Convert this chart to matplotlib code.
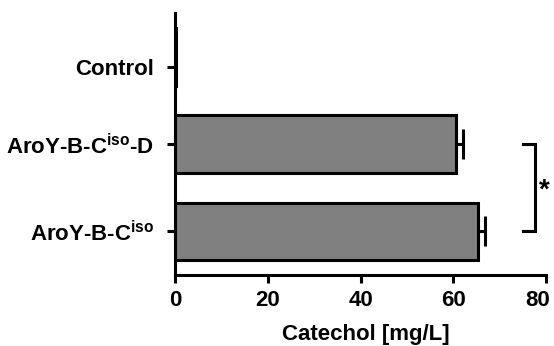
import matplotlib.pyplot as plt
from matplotlib.transforms import ScaledTranslation

plt.rcParams['font.family'] = ['Liberation Sans', 'DejaVu Sans']
plt.rcParams['font.weight'] = 'bold'
plt.rcParams['mathtext.fontset'] = 'custom'
plt.rcParams['mathtext.rm'] = 'Liberation Sans:bold'
plt.rcParams['mathtext.it'] = 'Liberation Sans:bold'
plt.rcParams['mathtext.bf'] = 'Liberation Sans:bold'

# Daten
labels = [r'AroY-B-C$^{\mathrm{iso}}$', r'AroY-B-C$^{\mathrm{iso}}$-D', 'Control']
values = [65.3, 60.5, 0.15]
errors = [1.4, 1.5, 0.0]
bar_pos = [0, 1, 2]
tick_pos = [0, 1, 1.885]

fig = plt.figure(figsize=(5.54, 3.46), dpi=100)
ax = fig.add_axes([0.316, 0.205, 0.67, 0.757])

ax.barh(bar_pos, values, height=0.66, color='#808080', edgecolor='black',
        linewidth=2.2, zorder=3)
ax.errorbar(values[:2], bar_pos[:2], xerr=[[0, 0], errors[:2]], fmt='none',
            ecolor='black', elinewidth=2.2, capsize=11, capthick=2.2, zorder=2)

ax.set_xlim(0, 80)
ax.set_ylim(-0.5, 2.5)
ax.set_xticks([0, 20, 40, 60, 80])
ax.set_yticks(tick_pos)
ax.set_yticklabels(labels)

for s in ['top', 'right']:
    ax.spines[s].set_visible(False)
for s in ['left', 'bottom']:
    ax.spines[s].set_linewidth(2.2)
ax.tick_params(axis='both', width=2.2, length=6, labelsize=16)
ax.tick_params(axis='y', pad=9)
ax.tick_params(axis='x', pad=5)
ax.set_xlabel('Catechol [mg/L]', fontsize=16, fontweight='bold', labelpad=9)
ax.xaxis.label.set_x(0.513)

# letztes Tick-Label etwas nach links, damit es ins Bild passt
last = ax.get_xticklabels()[-1]
last.set_transform(last.get_transform() + ScaledTranslation(-6 / 72, 0, fig.dpi_scale_trans))

# Signifikanz-Klammer
ax.plot([75, 77.6, 77.6, 75], [1, 1, 0, 0], color='black', lw=2.2,
        clip_on=False, solid_joinstyle='miter')
ax.text(79.6, 0.47, '*', fontsize=20, fontweight='bold', ha='center',
        va='center', clip_on=False)

fig.savefig('out.png', dpi=100)
